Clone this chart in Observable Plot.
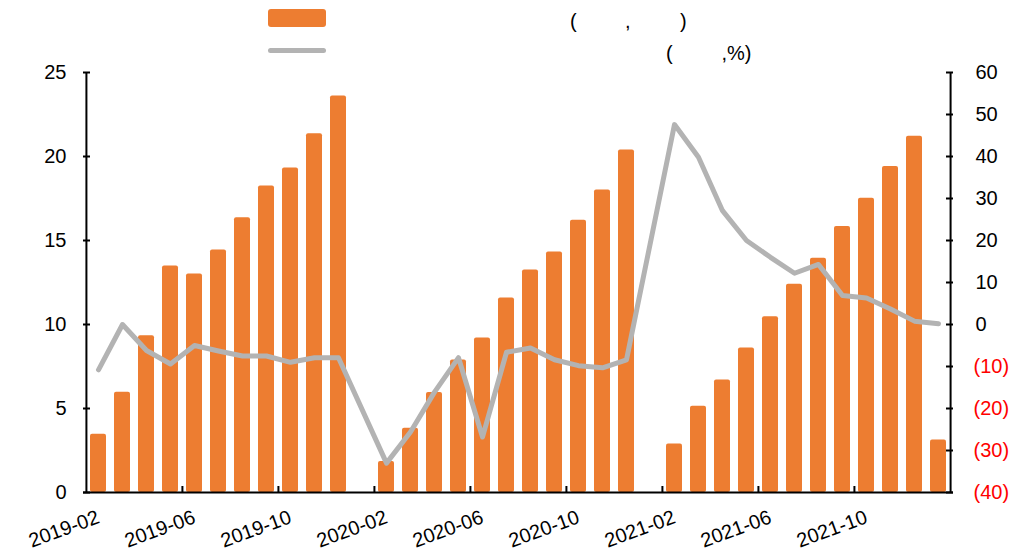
<!DOCTYPE html>
<html>
<head>
<meta charset="utf-8">
<script src="https://cdn.jsdelivr.net/npm/d3@7"></script>
<script src="https://cdn.jsdelivr.net/npm/@observablehq/plot@0.6"></script>
<style>
  body { margin: 0; background: #fff; font-family: "Liberation Sans", Arial, sans-serif; }
  #legend { position: relative; width: 1031px; height: 60px; font-size: 20px; color: #000; }
  #legend span { position: absolute; white-space: pre; line-height: 20px; }
  #legend .swatch { position: absolute; }
</style>
</head>
<body>
<div id="legend"></div>
<div id="chart"></div>
<script>
// Months on the category axis (Jan 2020 and Jan 2021 have no reading)
const months = [
  "2019-02","2019-03","2019-04","2019-05","2019-06","2019-07","2019-08","2019-09","2019-10","2019-11","2019-12",
  "2020-01","2020-02","2020-03","2020-04","2020-05","2020-06","2020-07","2020-08","2020-09","2020-10","2020-11","2020-12",
  "2021-01","2021-02","2021-03","2021-04","2021-05","2021-06","2021-07","2021-08","2021-09","2021-10","2021-11","2021-12",
  "2022-01"
];

// Cumulative value (left axis)
const sales = [
  3.47, 5.97, 9.33, 13.48, 13.0, 14.43, 16.35, 18.24, 19.31, 21.35, 23.6,
  null, 1.85, 3.83, 5.95, 7.88, 9.19, 11.57, 13.24, 14.31, 16.21, 18.0, 20.38,
  null, 2.88, 5.14, 6.69, 8.6, 10.46, 12.4, 13.95, 15.83, 17.52, 19.4, 21.2,
  3.12
];

// Year-on-year change, % (right axis)
const growth = [
  -10.8, 0, -6.2, -9.4, -5.0, -6.3, -7.5, -7.5, -9.0, -7.9, -7.9,
  null, -33.0, -25.6, -16.1, -7.9, -26.8, -6.6, -5.6, -8.4, -9.8, -10.3, -8.4,
  null, 47.6, 39.8, 27.1, 20.0, 16.0, 12.2, 14.3, 6.9, 6.3, 3.7, 0.8,
  0.2
];

const leftTicks = [0, 5, 10, 15, 20, 25];
const rightTicks = [-40, -30, -20, -10, 0, 10, 20, 30, 40, 50, 60];
const xLabels = ["2019-02","2019-06","2019-10","2020-02","2020-06","2020-10","2021-02","2021-06","2021-10"];
const xTickMonths = ["2019-06","2019-10","2020-02","2020-06","2020-10","2021-02","2021-06","2021-10"];

// Legend label fragments
const legendRow1 = ["(", ",", ")"];
const legendRow2 = ["(", ",%)"];

const orange = "#ED7D31";
const gray = "#B3B3B3";

// ---- legend ----
const legend = document.getElementById("legend");
function addSwatch(style) {
  const d = document.createElement("div");
  d.className = "swatch";
  Object.assign(d.style, style);
  legend.appendChild(d);
}
function addText(txt, left, top) {
  const s = document.createElement("span");
  s.textContent = txt;
  s.style.left = left + "px";
  s.style.top = top + "px";
  legend.appendChild(s);
}
addSwatch({left: "268px", top: "9px", width: "58px", height: "18px", background: orange, borderRadius: "3px"});
addSwatch({left: "268px", top: "47.5px", width: "58px", height: "5px", background: gray, borderRadius: "2.5px"});
[570, 625, 680].forEach((x, i) => addText(legendRow1[i], x, 10.5));
[666, 721.5].forEach((x, i) => addText(legendRow2[i], x, 42.5));

// ---- chart ----
const W = 1031, H = 495;
const mL = 83, mR = 78, mT = 12, mB = 63;
const frameW = W - mL - mR, frameH = H - mT - mB;
const step = frameW / months.length;

// secondary axis (-40..60) mapped onto the primary domain (0..25)
const toLeft = v => (v + 40) / 4;

const table = months.map((m, i) => ({month: m, sales: sales[i], growth: growth[i]}));
const barData = table.filter(d => d.sales != null);
const lineData = table.filter(d => d.growth != null);

const fmtRight = v => v < 0 ? `(${-v})` : String(v);

const chart = Plot.plot({
  width: W,
  height: H,
  marginLeft: mL,
  marginRight: mR,
  marginTop: mT,
  marginBottom: mB,
  style: {fontFamily: "Liberation Sans, Arial, sans-serif", fontSize: "20px", background: "#fff", overflow: "visible"},
  x: {type: "band", domain: months, paddingInner: 0.34, paddingOuter: 0.17, axis: null},
  y: {domain: [0, 25], axis: null},
  marks: [
    Plot.barY(barData, {x: "month", y: "sales", fill: orange, rx: 2}),
    Plot.line(lineData, {x: "month", y: d => toLeft(d.growth), stroke: gray, strokeWidth: 5,
      strokeLinejoin: "round", strokeLinecap: "round"}),
    // axis lines
    Plot.ruleY([0], {stroke: "#000", strokeWidth: 2}),
    Plot.ruleX([months[0]], {x: d => d, y1: 0, y2: 25, dx: -step / 2, stroke: "#000", strokeWidth: 2}),
    Plot.ruleX([months[months.length - 1]], {x: d => d, y1: 0, y2: 25, dx: step / 2, stroke: "#000", strokeWidth: 2}),
    // inward tick marks
    Plot.tickY(leftTicks, {y: d => d, insetRight: frameW - 7, stroke: "#000", strokeWidth: 2}),
    Plot.tickY(rightTicks, {y: d => toLeft(d), insetLeft: frameW - 7, stroke: "#000", strokeWidth: 2}),
    Plot.tickX(xTickMonths, {x: d => d, dx: -step / 2, insetTop: frameH - 6, stroke: "#000", strokeWidth: 2}),
    // tick labels
    Plot.text(leftTicks, {y: d => d, text: d => String(d), frameAnchor: "left", textAnchor: "end",
      dx: -17, fontSize: 20, fill: "#000"}),
    Plot.text(rightTicks.filter(v => v >= 0), {y: d => toLeft(d), text: fmtRight, frameAnchor: "right",
      textAnchor: "start", dx: 22, fontSize: 20, fill: "#000"}),
    Plot.text(rightTicks.filter(v => v < 0), {y: d => toLeft(d), text: fmtRight, frameAnchor: "right",
      textAnchor: "start", dx: 20, fontSize: 20, fill: "#FF0000"}),
    Plot.text(xLabels, {x: d => d, text: d => d, frameAnchor: "bottom", textAnchor: "end",
      lineAnchor: "middle", rotate: -20, dx: 0, dy: 24, fontSize: 20, fill: "#000"})
  ]
});
document.getElementById("chart").appendChild(chart);
</script>
</body>
</html>
